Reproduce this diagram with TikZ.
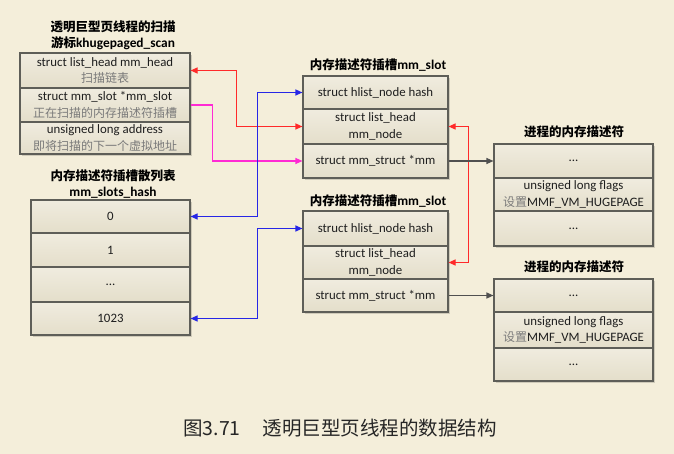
\documentclass[tikz,border=0pt]{standalone}
\usepackage{fontspec}
\setmainfont{Carlito}[Scale=1.07]
\newfontfamily\cjk{Noto Sans CJK SC}
\usetikzlibrary{arrows.meta}
\definecolor{bg}{HTML}{F4EEDA}
\definecolor{boxtop}{HTML}{F0ECDF}
\definecolor{boxbot}{HTML}{E4DECA}
\definecolor{boxline}{HTML}{5E5E58}
\definecolor{cjkgray}{HTML}{7A7A7A}
\definecolor{txt}{HTML}{1E1E1E}
\definecolor{redarr}{HTML}{FF2A2A}
\definecolor{bluearr}{HTML}{2626E6}
\definecolor{magarr}{HTML}{FF2AD4}
\definecolor{grayarr}{HTML}{505050}
\newcommand{\zh}[1]{{\cjk\color{cjkgray}#1}}
\tikzset{
  row/.style={draw=boxline, line width=1.1pt, top color=boxtop, bottom color=boxbot,
    inner sep=0pt, align=center, text=txt,
    font=\fontsize{12}{16.5}\selectfont},
  boxshadow/.style={fill=black, opacity=0.15},
  ttl/.style={align=center, text=black, font=\fontsize{12.5}{16}\selectfont\bfseries},
  conn/.style={line width=1.1pt},
}
\begin{document}
\begin{tikzpicture}[x=1pt,y=-1pt]
\fill[bg] (0,0) rectangle (674,454);
\useasboundingbox (0,0) rectangle (674,454);

% shadows
\fill[boxshadow] (22,55) rectangle (192,156);
\fill[boxshadow] (33,202) rectangle (192,337);
\fill[boxshadow] (305,78) rectangle (450,180);
\fill[boxshadow] (305,213) rectangle (450,314);
\fill[boxshadow] (496,146) rectangle (655,248);
\fill[boxshadow] (496,281) rectangle (655,383);

% khugepaged_scan
\node[ttl] (t1) at (113,35) {{\cjk 透明巨型页线程的扫描}\\{\cjk 游标}khugepaged\_scan};
\node[row, minimum width=170, minimum height=35] (k1) at (105,70.5) {struct list\_head mm\_head\\\zh{扫描链表}};
\node[row, minimum width=170, minimum height=34] (k2) at (105,105) {struct mm\_slot *mm\_slot\\\zh{正在扫描的内存描述符插槽}};
\node[row, minimum width=170, minimum height=32] (k3) at (105,138) {unsigned long address\\\zh{即将扫描的下一个虚拟地址}};

% hash table
\node[ttl] (t2) at (113,184.5) {{\cjk 内存描述符插槽散列表}\\mm\_slots\_hash};
\node[row, minimum width=159, minimum height=33] (h0) at (110.5,216.5) {0};
\node[row, minimum width=159, minimum height=34] (h1) at (110.5,250) {1};
\node[row, minimum width=159, minimum height=35] (h2) at (110.5,284.5) {...};
\node[row, minimum width=159, minimum height=33] (h3) at (110.5,318.5) {1023};

% mm_slot 1
\node[ttl] (t3) at (378,65) {{\cjk 内存描述符插槽}mm\_slot};
\node[row, minimum width=145, minimum height=33] (a1) at (375.5,92.5) {struct hlist\_node hash};
\node[row, minimum width=145, minimum height=35] (a2) at (375.5,126.5) {struct list\_head\\mm\_node};
\node[row, minimum width=145, minimum height=34] (a3) at (375.5,161) {struct mm\_struct *mm};

% mm_slot 2
\node[ttl] (t4) at (378,201) {{\cjk 内存描述符插槽}mm\_slot};
\node[row, minimum width=145, minimum height=35] (b1) at (375.5,228.5) {struct hlist\_node hash};
\node[row, minimum width=145, minimum height=33] (b2) at (375.5,262.5) {struct list\_head\\mm\_node};
\node[row, minimum width=145, minimum height=33] (b3) at (375.5,295.5) {struct mm\_struct *mm};

% mm_struct 1
\node[ttl] (t5) at (574,132) {\cjk 进程的内存描述符};
\node[row, minimum width=159, minimum height=34] (m1) at (573.5,161) {...};
\node[row, minimum width=159, minimum height=33] (m2) at (573.5,194.5) {unsigned long flags\\\zh{设置}MMF\_VM\_HUGEPAGE};
\node[row, minimum width=159, minimum height=35] (m3) at (573.5,228.5) {...};

% mm_struct 2
\node[ttl] (t6) at (574,267) {\cjk 进程的内存描述符};
\node[row, minimum width=159, minimum height=33] (n1) at (573.5,295.5) {...};
\node[row, minimum width=159, minimum height=36] (n2) at (573.5,330) {unsigned long flags\\\zh{设置}MMF\_VM\_HUGEPAGE};
\node[row, minimum width=159, minimum height=33] (n3) at (573.5,364.5) {...};

% connectors
\draw[conn, redarr, {Triangle[length=7pt,width=6pt]}-{Triangle[length=7pt,width=6pt]}] (k1.east) -- ++(46,0) |- (a2.west);
\draw[conn, redarr, {Triangle[length=7pt,width=6pt]}-{Triangle[length=7pt,width=6pt]}] (a2.east) -- ++(20,0) |- (b2.east);
\draw[conn, magarr, -{Triangle[length=7pt,width=6pt]}] (k2.east) -- ++(22,0) |- (a3.west);
\draw[conn, bluearr, {Triangle[length=7pt,width=6pt]}-{Triangle[length=7pt,width=6pt]}] (h0.east) -- ++(67,0) |- (a1.west);
\draw[conn, bluearr, {Triangle[length=7pt,width=6pt]}-{Triangle[length=7pt,width=6pt]}] (h3.east) -- ++(67,0) |- (b1.west);
\draw[conn, grayarr, -{Triangle[length=7pt,width=6pt]}] (a3.east) -- (m1.west);
\draw[conn, grayarr, -{Triangle[length=7pt,width=6pt]}] (b3.east) -- (n1.west);

% caption
\node[font=\cjk\fontsize{19.5}{22}\selectfont, text=black!85] (cap) at (340,428) {图3.71\hspace{22pt}透明巨型页线程的数据结构};
\end{tikzpicture}
\end{document}
